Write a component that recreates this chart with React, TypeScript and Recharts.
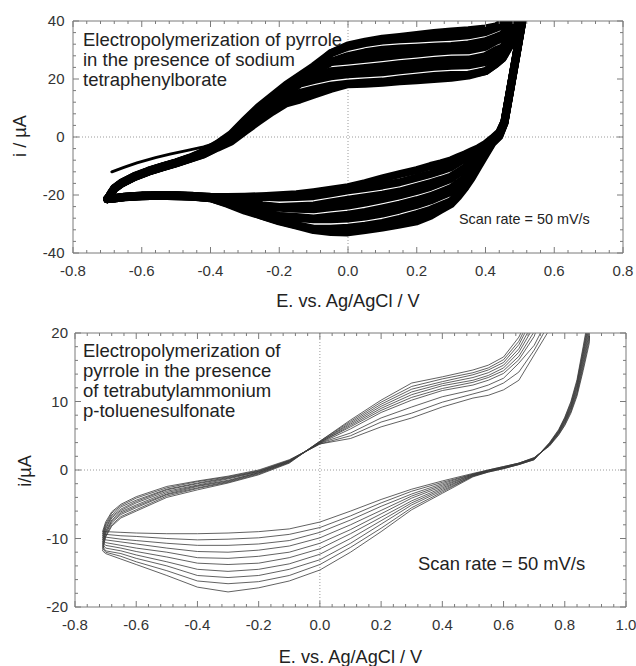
import { LineChart, Line, XAxis, YAxis, ReferenceLine } from "recharts"

// ---- top panel: PPy / sodium tetraphenylborate (8 cycles, inner -> outer) ----
const ppyFwdE = [-0.7, -0.69, -0.68, -0.66, -0.62, -0.58, -0.54, -0.5, -0.46, -0.42, -0.38, -0.34, -0.3, -0.26, -0.22, -0.18, -0.14, -0.1, -0.05, 0, 0.05, 0.1, 0.15, 0.2, 0.25, 0.3, 0.35, 0.4, 0.43, 0.45, 0.47, 0.49, 0.51, 0.55]
const ppyFwdI = [
  [-21.4, -21.4, -21.4, -21.4, -21.4, -21.4, -21.4, -21.4],
  [-19.8, -19.7, -19.7, -19.6, -19.6, -19.5, -19.5, -19.4],
  [-17.9, -17.9, -17.8, -17.8, -17.8, -17.7, -17.7, -17.6],
  [-16.2, -16.1, -16.1, -16.0, -16.0, -15.9, -15.9, -15.8],
  [-13.8, -13.7, -13.7, -13.6, -13.6, -13.5, -13.5, -13.4],
  [-12.0, -11.9, -11.9, -11.8, -11.8, -11.7, -11.7, -11.6],
  [-10.5, -10.4, -10.4, -10.3, -10.3, -10.2, -10.2, -10.1],
  [-9.1, -9.0, -9.0, -8.9, -8.9, -8.8, -8.8, -8.7],
  [-7.6, -7.5, -7.4, -7.4, -7.3, -7.3, -7.2, -7.1],
  [-6.0, -5.9, -5.7, -5.6, -5.5, -5.4, -5.2, -5.1],
  [-3.7, -3.5, -3.3, -3.1, -2.9, -2.7, -2.5, -2.3],
  [-1.6, -1.1, -0.7, -0.3, 0.1, 0.4, 0.7, 1.0],
  [2.0, 2.7, 3.4, 4.0, 4.6, 5.1, 5.5, 5.8],
  [5.4, 6.2, 7.1, 7.8, 8.5, 9.1, 9.8, 10.4],
  [8.7, 9.7, 10.8, 11.6, 12.3, 13.0, 13.6, 14.2],
  [11.6, 13.0, 14.7, 15.5, 16.3, 17.0, 17.5, 18.0],
  [12.9, 15.2, 18.4, 19.2, 19.9, 20.5, 20.9, 21.2],
  [14.6, 16.4, 19.6, 20.4, 22.0, 22.8, 23.6, 24.4],
  [16.6, 17.7, 20.9, 22.7, 25.9, 25.9, 28.9, 28.9],
  [18.2, 18.4, 21.6, 23.2, 26.4, 27.9, 31.1, 31.6],
  [18.4, 18.8, 22.0, 23.8, 27.0, 29.2, 32.4, 32.9],
  [18.7, 19.1, 22.3, 24.4, 27.6, 30.1, 33.3, 33.9],
  [19.2, 19.8, 23.0, 25.1, 28.3, 30.5, 33.7, 34.5],
  [19.6, 20.4, 23.6, 25.6, 28.8, 30.8, 34.0, 35.2],
  [20.0, 21.0, 24.2, 26.2, 29.4, 31.1, 34.3, 35.9],
  [20.4, 21.4, 24.6, 26.6, 29.8, 31.4, 34.6, 36.4],
  [21.2, 21.5, 24.7, 26.7, 29.9, 31.9, 35.1, 36.8],
  [22.7, 22.7, 25.8, 27.9, 31.1, 33.0, 36.2, 37.4],
  [25.2, 25.2, 28.1, 29.9, 33.1, 34.4, 37.6, 38.1],
  [27.2, 27.2, 29.6, 30.9, 34.1, 35.4, 38.6, 39.6],
  [31.2, 31.4, 33.1, 34.4, 37.6, 38.9, 42.1, 42.6],
  [37.2, 37.5, 39.1, 40.4, 43.6, 44.4, 47.6, 48.6],
  [43.0, 44.0, 46.0, 48.0, 50.0, 52.0, 54.0, 56.0],
  [65, 65, 65, 65, 65, 65, 65, 65],
]
const ppyRevE = [0.55, 0.51, 0.49, 0.47, 0.455, 0.44, 0.42, 0.4, 0.38, 0.36, 0.34, 0.32, 0.3, 0.27, 0.24, 0.2, 0.15, 0.1, 0.05, 0, -0.05, -0.1, -0.15, -0.2, -0.25, -0.3, -0.35, -0.4, -0.45, -0.5, -0.55, -0.6, -0.65, -0.68, -0.7]
const ppyRevI = [
  [65, 65, 65, 65, 65, 65, 65, 65],
  [42.4, 42.3, 42.2, 42.1, 42.0, 41.9, 41.8, 41.7],
  [28.8, 28.7, 28.6, 28.5, 28.4, 28.3, 28.2, 28.1],
  [15.4, 15.3, 15.2, 15.1, 15.0, 14.9, 14.8, 14.7],
  [5.4, 5.3, 5.2, 5.1, 5.0, 4.9, 4.8, 4.7],
  [1.6, 1.4, 1.2, 1.0, 0.8, 0.6, 0.4, 0.2],
  [-0.5, -0.7, -1.0, -1.2, -1.5, -1.7, -1.9, -2.1],
  [-2.4, -2.9, -3.5, -4.0, -4.6, -5.1, -5.6, -6.1],
  [-3.8, -4.7, -5.6, -6.5, -7.4, -8.3, -9.2, -10.1],
  [-4.9, -6.2, -7.6, -8.9, -10.2, -11.5, -12.8, -14.1],
  [-6.0, -7.4, -10.6, -10.9, -14.1, -14.2, -17.4, -17.6],
  [-7.0, -8.9, -12.1, -12.7, -15.9, -16.6, -19.8, -20.6],
  [-8.0, -10.4, -13.6, -14.4, -17.6, -18.9, -22.1, -23.1],
  [-9.1, -11.6, -14.8, -15.8, -19.0, -20.4, -23.6, -25.1],
  [-10.0, -12.7, -15.9, -17.2, -20.4, -21.9, -25.1, -27.2],
  [-11.4, -14.0, -17.2, -18.6, -21.8, -23.4, -26.6, -29.1],
  [-12.8, -15.6, -18.8, -20.1, -23.3, -25.0, -28.2, -30.2],
  [-14.3, -16.7, -19.9, -21.4, -24.6, -26.4, -29.6, -31.2],
  [-15.9, -17.6, -20.8, -22.6, -25.8, -27.4, -30.6, -32.1],
  [-17.3, -18.4, -21.6, -23.6, -26.8, -28.1, -31.3, -32.9],
  [-18.2, -19.4, -22.6, -24.2, -27.4, -28.4, -31.6, -32.8],
  [-19.0, -20.4, -23.6, -24.9, -28.1, -28.4, -31.6, -32.1],
  [-19.7, -20.7, -23.9, -24.7, -27.6, -27.9, -30.4, -30.6],
  [-20.1, -20.9, -24.1, -24.4, -27.2, -27.2, -28.9, -29.1],
  [-20.4, -20.6, -23.5, -23.7, -25.9, -26.1, -27.1, -27.2],
  [-20.6, -20.8, -22.2, -22.6, -23.8, -24.2, -25.1, -25.4],
  [-20.7, -20.8, -21.4, -21.8, -22.3, -22.6, -22.9, -23.1],
  [-20.6, -20.7, -20.8, -20.9, -21.0, -21.0, -21.1, -21.1],
  [-20.3, -20.3, -20.4, -20.4, -20.5, -20.5, -20.6, -20.6],
  [-20.1, -20.1, -20.2, -20.2, -20.3, -20.3, -20.4, -20.4],
  [-20.1, -20.1, -20.2, -20.2, -20.2, -20.3, -20.3, -20.3],
  [-20.2, -20.2, -20.3, -20.3, -20.3, -20.4, -20.4, -20.4],
  [-20.6, -20.6, -20.6, -20.7, -20.7, -20.7, -20.8, -20.8],
  [-21.0, -21.0, -21.1, -21.1, -21.1, -21.2, -21.2, -21.2],
  [-21.4, -21.4, -21.4, -21.4, -21.4, -21.4, -21.4, -21.4],
]
// first anodic sweep, starts at -0.687 V
const ppyFirstE = [-0.687, -0.65, -0.614, -0.56, -0.518, -0.47, -0.42, -0.38, -0.34]
const ppyFirstI = [-12.0, -10.4, -8.9, -7.1, -5.9, -4.7, -3.4, -2.0, -0.2]

// ---- bottom panel: PPy / TBA p-toluenesulfonate (10 cycles, early -> late) ----
const tosFwdE = [-0.71, -0.7, -0.68, -0.65, -0.6, -0.5, -0.4, -0.3, -0.2, -0.1, 0, 0.1, 0.2, 0.3, 0.4, 0.5, 0.55, 0.6, 0.65, 0.7, 0.75, 0.8, 0.9]
const tosFwdI = [
  [-9.0, -9.3, -9.6, -9.9, -10.2, -10.5, -10.8, -11.1, -11.4, -11.8],
  [-7.6, -7.9, -8.1, -8.4, -8.6, -8.9, -9.1, -9.3, -9.6, -9.8],
  [-6.1, -6.3, -6.6, -6.8, -7.0, -7.3, -7.5, -7.7, -8.0, -8.2],
  [-5.0, -5.2, -5.4, -5.7, -5.9, -6.1, -6.3, -6.5, -6.8, -7.0],
  [-3.9, -4.1, -4.4, -4.6, -4.8, -5.1, -5.3, -5.5, -5.8, -6.0],
  [-2.4, -2.6, -2.8, -2.9, -3.1, -3.3, -3.5, -3.6, -3.8, -4.0],
  [-1.6, -1.7, -1.9, -2.0, -2.2, -2.3, -2.4, -2.6, -2.7, -2.9],
  [-0.9, -1.0, -1.1, -1.2, -1.3, -1.5, -1.6, -1.7, -1.8, -1.9],
  [0.0, -0.1, -0.2, -0.2, -0.3, -0.4, -0.4, -0.5, -0.6, -0.7],
  [1.5, 1.4, 1.4, 1.3, 1.3, 1.2, 1.2, 1.1, 1.1, 1.0],
  [3.8, 3.8, 3.9, 3.9, 4.0, 4.0, 4.1, 4.1, 4.2, 4.2],
  [4.6, 5.0, 5.4, 6.0, 6.3, 6.5, 6.7, 6.9, 7.1, 7.3],
  [6.3, 7.0, 7.6, 8.4, 8.7, 9.0, 9.3, 9.6, 9.9, 10.2],
  [7.6, 8.3, 9.2, 10.2, 10.6, 11.0, 11.4, 11.8, 12.2, 12.7],
  [9.2, 9.9, 10.7, 11.6, 11.9, 12.3, 12.6, 12.9, 13.3, 13.6],
  [10.5, 11.1, 11.7, 12.4, 12.8, 13.1, 13.5, 13.9, 14.2, 14.6],
  [10.9, 11.7, 12.4, 13.1, 13.5, 13.8, 14.2, 14.6, 14.9, 15.3],
  [11.7, 12.7, 13.4, 14.1, 14.5, 14.9, 15.3, 15.7, 16.1, 16.5],
  [13.1, 14.3, 15.6, 16.1, 16.6, 17.2, 17.7, 18.3, 18.8, 19.4],
  [16.8, 17.5, 18.2, 19.5, 20.2, 21.0, 21.8, 22.6, 23.3, 24.0],
  [20.5, 21.5, 22.5, 26.0, 27.0, 28.0, 29.0, 30.0, 31.0, 32.0],
  [27.0, 28.0, 29.0, 33.0, 34.0, 35.0, 36.5, 37.5, 38.5, 40.0],
  [60, 60, 60, 60, 60, 60, 60, 60, 60, 60],
]
const tosRevE = [0.9, 0.88, 0.86, 0.84, 0.82, 0.8, 0.78, 0.75, 0.7, 0.65, 0.6, 0.55, 0.5, 0.4, 0.3, 0.2, 0.1, 0, -0.1, -0.2, -0.3, -0.4, -0.5, -0.6, -0.65, -0.7, -0.71]
const tosRevI = [
  [60, 60, 60, 60, 60, 60, 60, 60, 60, 60],
  [18.5, 19.0, 19.5, 20.0, 20.5, 21.0, 21.5, 22.0, 22.5, 23.0],
  [14.5, 14.9, 15.3, 15.7, 16.1, 16.5, 16.9, 17.2, 17.6, 18.0],
  [10.8, 11.1, 11.3, 11.6, 11.9, 12.1, 12.4, 12.7, 12.9, 13.2],
  [8.3, 8.5, 8.7, 8.9, 9.1, 9.2, 9.4, 9.6, 9.8, 10.0],
  [6.5, 6.6, 6.8, 6.9, 7.0, 7.2, 7.3, 7.4, 7.6, 7.7],
  [5.1, 5.2, 5.3, 5.4, 5.5, 5.5, 5.6, 5.7, 5.8, 5.9],
  [3.5, 3.6, 3.6, 3.7, 3.7, 3.8, 3.8, 3.9, 3.9, 4.0],
  [1.8, 1.8, 1.7, 1.7, 1.7, 1.6, 1.6, 1.6, 1.5, 1.5],
  [1.0, 1.0, 1.0, 0.9, 0.9, 0.9, 0.9, 0.8, 0.8, 0.8],
  [0.5, 0.5, 0.4, 0.4, 0.4, 0.3, 0.3, 0.3, 0.2, 0.2],
  [0.0, 0.0, -0.1, -0.1, -0.1, -0.2, -0.2, -0.2, -0.3, -0.3],
  [-0.5, -0.6, -0.6, -0.7, -0.7, -0.8, -0.8, -0.9, -0.9, -1.0],
  [-1.6, -1.8, -2.0, -2.2, -2.4, -2.6, -2.8, -3.0, -3.2, -3.4],
  [-2.8, -3.1, -3.5, -3.8, -4.1, -4.5, -4.8, -5.1, -5.5, -5.8],
  [-4.3, -4.8, -5.3, -5.9, -6.4, -6.9, -7.4, -7.9, -8.5, -9.0],
  [-6.0, -6.7, -7.3, -8.0, -8.7, -9.3, -10.0, -10.7, -11.3, -12.0],
  [-7.6, -8.4, -9.1, -9.9, -10.7, -11.5, -12.3, -13.1, -13.8, -14.6],
  [-8.6, -9.4, -10.3, -11.1, -12.0, -12.8, -13.7, -14.5, -15.4, -16.2],
  [-9.0, -9.9, -10.8, -11.7, -12.6, -13.6, -14.5, -15.4, -16.3, -17.2],
  [-9.2, -10.1, -11.0, -12.0, -12.9, -13.8, -14.8, -15.7, -16.6, -17.8],
  [-9.3, -10.2, -11.0, -11.9, -12.8, -13.6, -14.5, -15.4, -16.2, -17.1],
  [-9.3, -10.0, -10.7, -11.4, -12.0, -12.7, -13.4, -14.0, -14.7, -15.4],
  [-9.2, -9.7, -10.3, -10.8, -11.4, -11.9, -12.4, -12.9, -13.4, -13.8],
  [-9.1, -9.6, -10.1, -10.5, -11.0, -11.4, -11.8, -12.2, -12.6, -13.0],
  [-9.0, -9.4, -9.8, -10.2, -10.6, -11.0, -11.4, -11.8, -12.0, -12.2],
  [-9.0, -9.3, -9.6, -9.9, -10.2, -10.5, -10.8, -11.1, -11.4, -11.8],
]

// axis ticks
const topXMajor = [-0.8, -0.6, -0.4, -0.2, 0, 0.2, 0.4, 0.6, 0.8]
const topYMajor = [-40, -20, 0, 20, 40]
const botXMajor = [-0.8, -0.6, -0.4, -0.2, 0, 0.2, 0.4, 0.6, 0.8, 1.0]
const botYMajor = [-20, -10, 0, 10, 20]

const font = "'Liberation Sans', Arial, Helvetica, sans-serif"
const frame = "#7a7a7a"
const ink = "#222"

function withMinor(majors: number[], parts: number) {
  const out: number[] = []
  majors.forEach((m, idx) => {
    out.push(m)
    const next = majors[idx + 1]
    if (next === undefined) return
    for (let s = 1; s < parts; s++) out.push(m + ((next - m) * s) / parts)
  })
  return out
}

function buildCycles(fE: number[], fI: number[][], rE: number[], rI: number[][]) {
  const n = fI[0].length
  return Array.from({ length: n }, (_, k) => [
    ...fE.map((E, j) => ({ E, i: fI[j][k] })),
    ...rE.map((E, j) => ({ E, i: rI[j][k] })),
  ])
}

function makeTick(side: "bottom" | "top" | "left" | "right", majors: number[], fmt?: (v: number) => string, gap = 8) {
  return (props: any) => {
    const { x, y, payload } = props
    const v = payload.value as number
    const major = majors.some((m) => Math.abs(m - v) < 1e-6)
    const len = major ? 6 : 3
    let x2 = x
    let y2 = y
    if (side === "bottom") y2 = y - len
    if (side === "top") y2 = y + len
    if (side === "left") x2 = x + len
    if (side === "right") x2 = x - len
    return (
      <g>
        <line x1={x} y1={y} x2={x2} y2={y2} stroke={frame} strokeWidth={1} />
        {fmt && major && side === "bottom" && (
          <text x={x} y={y + 22.5} textAnchor="middle" fontSize={15} fontFamily={font} fill="#333">
            {fmt(v)}
          </text>
        )}
        {fmt && major && side === "left" && (
          <text x={x - gap} y={y + 5.3} textAnchor="end" fontSize={15} fontFamily={font} fill="#333">
            {fmt(v)}
          </text>
        )}
      </g>
    )
  }
}

const fmtE = (v: number) => v.toFixed(1)
const fmtI = (v: number) => String(Math.round(v))

function TextBlock({ lines, left, top, size, lh }: { lines: string[]; left: number; top: number; size: number; lh: number }) {
  return (
    <div style={{ position: "absolute", left, top, fontSize: size, lineHeight: `${lh}px`, whiteSpace: "nowrap" }}>
      {lines.map((t) => (
        <div key={t}>{t}</div>
      ))}
    </div>
  )
}

export default function App() {
  const ppyCycles = buildCycles(ppyFwdE, ppyFwdI, ppyRevE, ppyRevI)
  const ppyFirst = ppyFirstE.map((E, j) => ({ E, i: ppyFirstI[j] }))
  const tosCycles = buildCycles(tosFwdE, tosFwdI, tosRevE, tosRevI)

  const topXTicks = withMinor(topXMajor, 5)
  const topYTicks = withMinor(topYMajor, 5)
  const botXTicks = withMinor(botXMajor, 5)
  const botYTicks = withMinor(botYMajor, 5)

  const axisCommon = { tickLine: false, tickSize: 0, tickMargin: 0, interval: 0 as const, allowDataOverflow: true, axisLine: { stroke: frame } }

  return (
    <div style={{ position: "absolute", left: 0, top: 0, width: 636, height: 666, background: "#fff", fontFamily: font, color: ink }}>
      <div style={{ position: "absolute", left: 0, top: 0 }}>
        <LineChart width={636} height={320} margin={{ top: 20, right: 12, bottom: 66, left: 72 }}>
          <XAxis dataKey="E" type="number" domain={[-0.8, 0.8]} ticks={topXTicks} height={1} tick={makeTick("bottom", topXMajor, fmtE)} {...axisCommon} />
          <XAxis xAxisId="top" orientation="top" dataKey="E" type="number" domain={[-0.8, 0.8]} ticks={topXTicks} height={1} tick={makeTick("top", topXMajor)} {...axisCommon} />
          <YAxis type="number" domain={[-40, 40]} ticks={topYTicks} width={1} tick={makeTick("left", topYMajor, fmtI, 8.5)} {...axisCommon} />
          <YAxis yAxisId="right" orientation="right" type="number" domain={[-40, 40]} ticks={topYTicks} width={1} tick={makeTick("right", topYMajor)} {...axisCommon} />
          <ReferenceLine x={0} stroke="#9a9a9a" strokeDasharray="1 2" />
          <ReferenceLine y={0} stroke="#9a9a9a" strokeDasharray="1 2" />
          {ppyCycles.map((d, k) => (
            <Line key={k} data={d} dataKey="i" type="linear" stroke="#000" strokeWidth={8} strokeLinejoin="round" strokeLinecap="round" dot={false} activeDot={false} isAnimationActive={false} />
          ))}
          <Line data={ppyFirst} dataKey="i" type="linear" stroke="#000" strokeWidth={3} strokeLinecap="round" dot={false} activeDot={false} isAnimationActive={false} />
        </LineChart>
      </div>

      <div style={{ position: "absolute", left: 0, top: 320 }}>
        <LineChart width={636} height={346} margin={{ top: 12, right: 9, bottom: 58, left: 74 }}>
          <XAxis dataKey="E" type="number" domain={[-0.8, 1.0]} ticks={botXTicks} height={1} tick={makeTick("bottom", botXMajor, fmtE)} {...axisCommon} />
          <XAxis xAxisId="top" orientation="top" dataKey="E" type="number" domain={[-0.8, 1.0]} ticks={botXTicks} height={1} tick={makeTick("top", botXMajor)} {...axisCommon} />
          <YAxis type="number" domain={[-20, 20]} ticks={botYTicks} width={1} tick={makeTick("left", botYMajor, fmtI, 7)} {...axisCommon} />
          <YAxis yAxisId="right" orientation="right" type="number" domain={[-20, 20]} ticks={botYTicks} width={1} tick={makeTick("right", botYMajor)} {...axisCommon} />
          <ReferenceLine x={0} stroke="#9a9a9a" strokeDasharray="1 2" />
          <ReferenceLine y={0} stroke="#9a9a9a" strokeDasharray="1 2" />
          {tosCycles.map((d, k) => (
            <Line key={k} data={d} dataKey="i" type="linear" stroke="#3a3a3a" strokeWidth={0.8} dot={false} activeDot={false} isAnimationActive={false} />
          ))}
        </LineChart>
      </div>

      <TextBlock lines={["Electropolymerization of pyrrole", "in the presence of sodium", "tetraphenylborate"]} left={83} top={30} size={18.5} lh={20} />
      <TextBlock lines={["Scan rate = 50 mV/s"]} left={459} top={211} size={14.4} lh={16} />
      <div style={{ position: "absolute", left: 248, top: 290.6, width: 200, textAlign: "center", fontSize: 18.2, lineHeight: "20px", whiteSpace: "nowrap" }}>E. vs. Ag/AgCl / V</div>
      <div style={{ position: "absolute", left: -20.3, top: 126, width: 80, height: 20, textAlign: "center", fontSize: 18.2, lineHeight: "20px", transform: "rotate(-90deg)", whiteSpace: "nowrap" }}>i / µA</div>

      <TextBlock lines={["Electropolymerization of", "pyrrole in the presence", "of tetrabutylammonium", "p-toluenesulfonate"]} left={83} top={340.6} size={18.5} lh={20} />
      <TextBlock lines={["Scan rate = 50 mV/s"]} left={418} top={553.6} size={18.4} lh={20} />
      <div style={{ position: "absolute", left: 250.5, top: 646.6, width: 200, textAlign: "center", fontSize: 18.2, lineHeight: "20px", whiteSpace: "nowrap" }}>E. vs. Ag/AgCl / V</div>
      <div style={{ position: "absolute", left: -15.3, top: 461, width: 80, height: 20, textAlign: "center", fontSize: 18.2, lineHeight: "20px", transform: "rotate(-90deg)", whiteSpace: "nowrap" }}>i/µA</div>
    </div>
  )
}
